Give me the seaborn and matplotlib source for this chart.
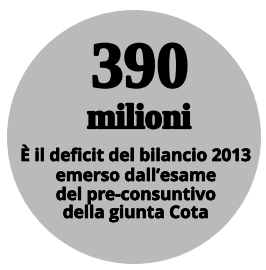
import seaborn as sns
import matplotlib.pyplot as plt
import matplotlib.patheffects as pe
from matplotlib.patches import Circle

# Contenuto del box
valore = "390"
unita = "milioni"
didascalia = [
    "È il deficit del bilancio 2013",
    "emerso dall’esame",
    "del pre-consuntivo",
    "della giunta Cota",
]

sns.set_theme(style="white")

fig = plt.figure(figsize=(2.66, 2.70), dpi=100)
ax = fig.add_axes([0, 0, 1, 1])
ax.set_xlim(0, 266)
ax.set_ylim(270, 0)
ax.axis("off")

# sfondo circolare grigio
ax.add_patch(Circle((134, 137), 127, facecolor="#bababa", edgecolor="none"))

spesso = [pe.withStroke(linewidth=1.6, foreground="black")]
ax.text(140, 87, valore, ha="center", va="baseline", fontsize=47,
        fontweight="bold", family="Liberation Serif", color="black",
        path_effects=spesso)
ax.text(139, 128, unita, ha="center", va="baseline", fontsize=25,
        fontweight="bold", family="Liberation Serif", color="black",
        path_effects=spesso)

baselines = [161, 181, 200, 218]
for riga, yb in zip(didascalia, baselines):
    ax.text(136, yb, riga, ha="center", va="baseline", fontsize=12.4,
            fontweight="bold", family="Open Sans", color="black",
            path_effects=[pe.withStroke(linewidth=0.5, foreground="black")])

plt.savefig("out.png", dpi=100)
